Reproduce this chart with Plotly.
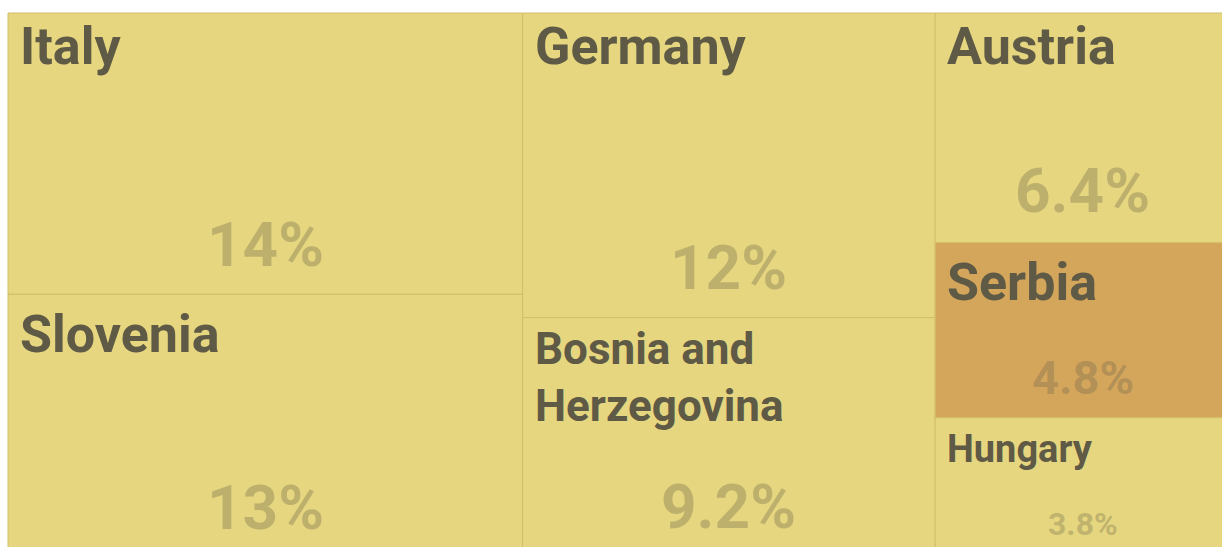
import plotly.graph_objects as go

# Datos del treemap (participación en %)
countries = ["Italy", "Slovenia", "Germany", "Bosnia and Herzegovina", "Austria", "Serbia", "Hungary"]
shares = [13.6, 12.6, 11.8, 9.2, 6.36, 4.85, 3.8]
columns = [0, 0, 1, 1, 2, 2, 2]
highlight = "Serbia"

# Estilo
YELLOW = "#e5d67f"
ORANGE = "#d4a65c"
BORDER = "#d2bf68"
DARK = "#5f5a45"
FONT = "Roboto"

# tamaño etiqueta, margen superior etiqueta, tamaño del %, distancia del % al borde inferior
style = {
    "Italy": (52, 1, 62, 50),
    "Slovenia": (52, 8, 62, 48),
    "Germany": (52, 1, 62, 50),
    "Bosnia and Herzegovina": (44, 3, 62, 49),
    "Austria": (52, 1, 62, 52),
    "Serbia": (52, 7, 47, 40),
    "Hungary": (38, 7, 32, 31),
}

W, H = 1222, 542  # extensión del treemap (recortado por la ventana)
FIG_W, FIG_H = 1222, 547
OFF_X, OFF_Y = 8, 13  # espacio blanco a la izquierda y arriba

# Layout slice-dice: columnas por suma, luego filas dentro de cada columna
n_cols = max(columns) + 1
col_tot = [sum(s for s, c in zip(shares, columns) if c == k) for k in range(n_cols)]
total = sum(col_tot)
col_x = [0]
for t in col_tot:
    col_x.append(col_x[-1] + t / total * W)

rects = []
col_y = [0] * n_cols
for s, c in zip(shares, columns):
    x0, x1 = col_x[c], col_x[c + 1]
    y0 = col_y[c]
    y1 = y0 + s / col_tot[c] * H
    col_y[c] = y1
    rects.append((x0, x1, y0, y1))

fig = go.Figure()
annotations = []

for name, s, (x0, x1, y0, y1) in zip(countries, shares, rects):
    fill = ORANGE if name == highlight else YELLOW
    fig.add_trace(go.Scatter(
        x=[x0, x1, x1, x0, x0],
        y=[y0, y0, y1, y1, y0],
        fill="toself",
        fillcolor=fill,
        mode="lines",
        line=dict(color=BORDER, width=1),
        hoverinfo="text",
        hovertext=f"{name}: {s:.2g}%",
        showlegend=False,
    ))

    lab_size, lab_pad, pct_size, pct_off = style[name]
    label = name.replace(" and ", " and<br>")
    annotations.append(dict(
        x=x0, y=y0, xref="x", yref="y",
        text=f"<b>{label}</b>",
        xanchor="left", yanchor="top", align="left",
        xshift=10, yshift=-lab_pad,
        showarrow=False,
        font=dict(family=FONT, size=lab_size, color=DARK),
    ))
    annotations.append(dict(
        x=(x0 + x1) / 2, y=y1 - pct_off, xref="x", yref="y",
        text=f"<b>{s:.2g}%</b>",
        xanchor="center", yanchor="middle",
        showarrow=False,
        font=dict(family=FONT, size=pct_size, color="rgba(95,90,69,0.3)"),
    ))

fig.update_layout(
    width=FIG_W,
    height=FIG_H,
    margin=dict(l=0, r=0, t=0, b=0),
    paper_bgcolor="white",
    plot_bgcolor="white",
    xaxis=dict(range=[-OFF_X, FIG_W - OFF_X], visible=False, fixedrange=True),
    yaxis=dict(range=[FIG_H - OFF_Y, -OFF_Y], visible=False, fixedrange=True),
    annotations=annotations,
    showlegend=False,
)

# quitar el margen por defecto del <body> para que la figura llene la ventana
fig.write_html(
    "out.html",
    config={"displayModeBar": False},
    post_script="document.body.style.margin = '0';",
)
